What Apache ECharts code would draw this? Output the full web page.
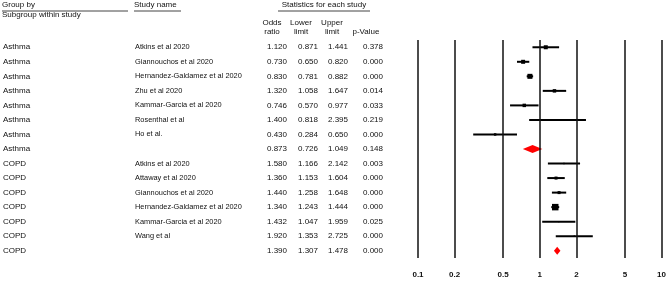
<!DOCTYPE html>
<html><head><meta charset="utf-8">
<script src="https://cdn.jsdelivr.net/npm/echarts@6/dist/echarts.min.js"></script>
<style>html,body{margin:0;padding:0;background:#fff}#c{width:669px;height:281px}</style>
</head><body><div id="c"></div>
<script>
const groups = ['Asthma','Asthma','Asthma','Asthma','Asthma','Asthma','Asthma','Asthma','COPD','COPD','COPD','COPD','COPD','COPD','COPD'];
const studies = ['Atkins et al 2020','Giannouchos et al 2020','Hernandez-Galdamez et al 2020','Zhu et al 2020','Kammar-Garcia et al 2020','Rosenthal et al','Ho et al.','',
  'Atkins et al 2020','Attaway et al 2020','Giannouchos et al 2020','Hernandez-Galdamez et al 2020','Kammar-Garcia et al 2020','Wang et al',''];
const oddsRatio = [1.120,0.730,0.830,1.320,0.746,1.400,0.430,0.873,1.580,1.360,1.440,1.340,1.432,1.920,1.390];
const lowerLimit = [0.871,0.650,0.781,1.058,0.570,0.818,0.284,0.726,1.166,1.153,1.258,1.243,1.047,1.353,1.307];
const upperLimit = [1.441,0.820,0.882,1.647,0.977,2.395,0.650,1.049,2.142,1.604,1.648,1.444,1.959,2.725,1.478];
const pValue = [0.378,0.000,0.000,0.014,0.033,0.219,0.000,0.148,0.003,0.000,0.000,0.000,0.025,0.000,0.000];
const weights = [16,16,25,12,12,2,6,0,2,9,9,42,2,2,0];
const tickValues = [0.1,0.2,0.5,1,2,5,10];

const FONT = 'Liberation Sans, Arial, sans-serif';
const rows = studies.map((s,i)=>String(i));
const fmt = v => v.toFixed(3);

function colAxis(data, offset, align, size) {
  return {
    type:'category', data: data, inverse:true, position:'left', offset: offset,
    axisLine:{show:false}, axisTick:{show:false}, splitLine:{show:false},
    axisLabel:{show:true, interval:0, margin:0, align: align, fontSize:size||8, color:'#111', fontFamily: FONT}
  };
}
const GL = 417;
const chart = echarts.init(document.getElementById('c'), null, {renderer:'canvas'});
const seriesData = oddsRatio.map((v,i)=>[v, lowerLimit[i], upperLimit[i], i, weights[i], studies[i]==='' ? 1 : 0]);

function txt(x,y,t,align){
  return {type:'text', x:x, y:y, style:{text:t, fill:'#111', font:'8px '+FONT, textAlign:align||'left', textVerticalAlign:'middle'}};
}
function hline(x1,x2,y){
  return {type:'line', shape:{x1:x1,y1:y,x2:x2,y2:y}, style:{stroke:'#444', lineWidth:1}};
}

chart.setOption({
  animation:false,
  grid:{left:GL, right:7, top:40, bottom:23},
  xAxis:{type:'log', logBase:10, min:0.1, max:10,
    axisLine:{show:false}, axisTick:{show:false}, splitLine:{show:false},
    axisLabel:{customValues: tickValues, margin:13, fontSize:8, fontWeight:'bold', color:'#111', fontFamily:FONT,
      formatter: v => String(+(+v).toPrecision(3))}},
  yAxis:[
    {type:'category', data: rows, inverse:true, show:false},
    colAxis(groups, GL-2, 'left'),
    colAxis(studies, GL-134, 'left', 7.4),
    colAxis(oddsRatio.map(fmt), GL-286, 'right'),
    colAxis(lowerLimit.map(fmt), GL-317, 'right'),
    colAxis(upperLimit.map(fmt), GL-347, 'right'),
    colAxis(pValue.map(fmt), GL-382, 'right')
  ],
  graphic:[
    txt(2,5,'Group by'), hline(2,128,11),
    txt(2,15,'Subgroup within study'),
    txt(134,5,'Study name'), hline(134,181,11),
    txt(324,5,'Statistics for each study','center'), hline(278,370,11),
    txt(272,23,'Odds','center'), txt(272,32,'ratio','center'),
    txt(301,23,'Lower','center'), txt(301,32,'limit','center'),
    txt(332,23,'Upper','center'), txt(332,32,'limit','center'),
    txt(366,32,'p-Value','center')
  ],
  series:[{
    type:'custom', yAxisIndex:0, clip:false,
    data: seriesData,
    renderItem: function(params, api){
      const or = api.value(0), lo = api.value(1), hi = api.value(2), row = api.value(3), w = api.value(4), sum = api.value(5);
      const pc = api.coord([or, row]);
      const pl = api.coord([lo, row]);
      const ph = api.coord([hi, row]);
      if (sum) {
        return {type:'polygon', shape:{points:[[pl[0],pc[1]],[pc[0],pc[1]-4],[ph[0],pc[1]],[pc[0],pc[1]+4]]}, style:{fill:'#ff0000'}};
      }
      const s = Math.sqrt(w);
      return {type:'group', children:[
        {type:'line', shape:{x1:pl[0],y1:pc[1],x2:ph[0],y2:pc[1]}, style:{stroke:'#000', lineWidth:2}},
        {type:'rect', shape:{x:pc[0]-s/2, y:pc[1]-s/2, width:s, height:s}, style:{fill:'#000'}}
      ]};
    },
    markLine:{silent:true, symbol:'none', label:{show:false},
      lineStyle:{color:'#111', width:1.5, type:'solid'},
      data: tickValues.map(v=>({xAxis:v}))}
  }]
});
</script></body></html>
